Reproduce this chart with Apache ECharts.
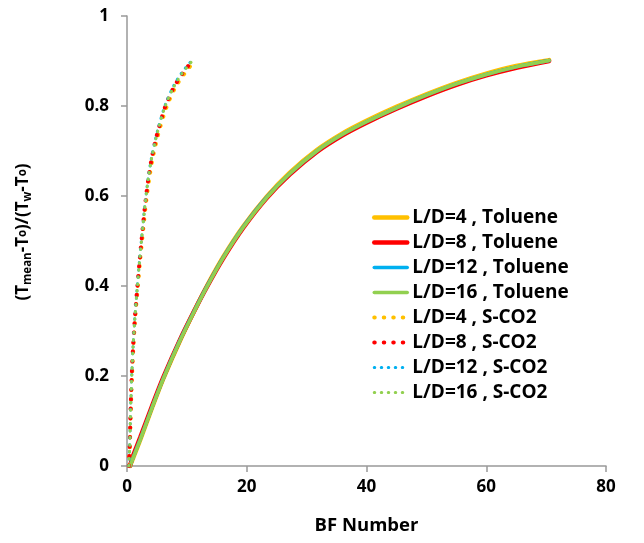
<!DOCTYPE html>
<html>
<head>
<meta charset="utf-8">
<script src="https://cdn.jsdelivr.net/npm/echarts@6/dist/echarts.min.js"></script>
<style>
html,body{margin:0;padding:0;background:#fff;}
#chart{width:644px;height:543px;}
</style>
</head>
<body>
<div id="chart"></div>
<script>
// ---- data ----
var seriesNames = ['L/D=4 , Toluene','L/D=8 , Toluene','L/D=12 , Toluene','L/D=16 , Toluene',
                   'L/D=4 , S-CO2','L/D=8 , S-CO2','L/D=12 , S-CO2','L/D=16 , S-CO2'];
var xTicks = [0, 20, 40, 60, 80];
var yTicks = [0, 0.2, 0.4, 0.6, 0.8, 1];

var tolX = [0.5, 1, 2.2, 4.2, 6.1, 8.9, 11.4, 13.3, 16.1, 19.4, 23.3, 27.2, 31.7, 36, 40, 45, 50, 55, 60, 65, 70.5];
var tolY4  = [0, 0.017, 0.058, 0.130, 0.195, 0.280, 0.349, 0.399, 0.465, 0.532, 0.598, 0.652, 0.702, 0.739, 0.767, 0.798, 0.826, 0.851, 0.872, 0.889, 0.902];
var tolY8  = [0, 0.022, 0.063, 0.134, 0.198, 0.282, 0.349, 0.397, 0.462, 0.529, 0.595, 0.648, 0.698, 0.735, 0.763, 0.794, 0.822, 0.847, 0.868, 0.885, 0.900];
var tolY12 = [0, 0.018, 0.059, 0.131, 0.196, 0.281, 0.349, 0.398, 0.464, 0.531, 0.597, 0.650, 0.700, 0.737, 0.765, 0.796, 0.824, 0.849, 0.870, 0.887, 0.901];
var tolY16 = [0, 0.017, 0.058, 0.130, 0.195, 0.280, 0.348, 0.397, 0.463, 0.530, 0.596, 0.650, 0.700, 0.737, 0.765, 0.796, 0.824, 0.849, 0.870, 0.887, 0.901];

var co2X4 = [0.3, 0.47, 0.63, 0.84, 1.05, 1.3, 1.56, 1.82, 2.18, 2.7, 3.22, 3.75, 4.27, 4.9, 5.52, 6.67, 8.1, 9.6, 11.25];
var co2X  = [0.3, 0.45, 0.6, 0.8, 1.0, 1.25, 1.5, 1.75, 2.1, 2.6, 3.1, 3.6, 4.1, 4.7, 5.3, 6.4, 7.8, 9.2, 10.75];
var co2Y4  = [0, 0.040, 0.120, 0.200, 0.260, 0.315, 0.360, 0.400, 0.455, 0.525, 0.590, 0.642, 0.683, 0.720, 0.752, 0.800, 0.842, 0.872, 0.900];
var co2Y8  = [0, 0.045, 0.125, 0.205, 0.262, 0.317, 0.362, 0.402, 0.456, 0.526, 0.590, 0.641, 0.682, 0.720, 0.751, 0.799, 0.841, 0.871, 0.898];
var co2Y12 = [0, 0.042, 0.122, 0.202, 0.262, 0.318, 0.363, 0.403, 0.458, 0.528, 0.593, 0.645, 0.686, 0.723, 0.755, 0.803, 0.845, 0.875, 0.900];
var co2Y16 = [0, 0.040, 0.120, 0.200, 0.260, 0.315, 0.360, 0.400, 0.455, 0.525, 0.590, 0.642, 0.683, 0.720, 0.752, 0.800, 0.842, 0.872, 0.898];

var colors = ['#FFC000', '#FF0000', '#00B0F0', '#92D050'];

function pairs(xs, ys) { return xs.map(function (x, i) { return [x, ys[i]]; }); }

var FONT = '"Open Sans", "Liberation Sans", sans-serif';

var dataSets = [
  pairs(tolX, tolY4), pairs(tolX, tolY8), pairs(tolX, tolY12), pairs(tolX, tolY16),
  pairs(co2X4, co2Y4), pairs(co2X, co2Y8), pairs(co2X, co2Y12), pairs(co2X, co2Y16)
];
var widths = [4.5, 4.5, 3.5, 3.5, 4, 4, 3, 3];
var dashes = [null, null, null, null, [0.5, 9], [0.5, 9], [0.5, 6.5], [0.5, 6.5]];

var series = dataSets.map(function (d, i) {
  return {
    name: seriesNames[i],
    type: 'line',
    data: d,
    smooth: 0.3,
    symbol: 'none',
    showSymbol: false,
    animation: false,
    z: 2 + i,
    lineStyle: {
      color: colors[i % 4],
      width: widths[i],
      type: dashes[i] ? dashes[i] : 'solid',
      cap: 'round'
    },
    itemStyle: { color: colors[i % 4] }
  };
});

var chart = echarts.init(document.getElementById('chart'), null, { renderer: 'canvas' });
chart.setOption({
  animation: false,
  backgroundColor: '#fff',
  grid: { left: 127, right: 38, top: 16, bottom: 77, containLabel: false },
  xAxis: {
    type: 'value',
    min: xTicks[0], max: xTicks[xTicks.length - 1], interval: xTicks[1] - xTicks[0],
    name: 'BF Number',
    nameLocation: 'middle',
    nameGap: 50,
    nameTextStyle: { fontFamily: FONT, fontWeight: 'bold', fontSize: 18.5, color: '#000' },
    axisLine: { lineStyle: { color: '#999', width: 1.5 } },
    axisTick: { show: true, length: 6, lineStyle: { color: '#999', width: 1.5 } },
    axisLabel: { fontFamily: FONT, fontWeight: 'bold', fontSize: 17, color: '#000', margin: 13 },
    splitLine: { show: false }
  },
  yAxis: {
    type: 'value',
    min: yTicks[0], max: yTicks[yTicks.length - 1], interval: 0.2,
    axisLine: { show: true, lineStyle: { color: '#999', width: 1.5 } },
    axisTick: { show: true, length: 6, lineStyle: { color: '#999', width: 1.5 } },
    axisLabel: { fontFamily: FONT, fontWeight: 'bold', fontSize: 17, color: '#000', margin: 18 },
    splitLine: { show: false }
  },
  legend: {
    orient: 'vertical',
    left: 367,
    top: 203,
    itemWidth: 33,
    itemHeight: 14,
    itemGap: 6,
    data: seriesNames,
    textStyle: { fontFamily: FONT, fontWeight: 'bold', fontSize: 19, lineHeight: 17, color: '#000' },
    lineStyle: { width: 'inherit' },
    itemStyle: { opacity: 0 }
  },
  graphic: [{
    type: 'text',
    x: 23, y: 232,
    rotation: Math.PI / 2,
    style: {
      text: '{m|(T}{s|mean}{m|-T}{o|o}{m|)/(T}{s|w}{m|-T}{o|o}{m|)}',
      align: 'center',
      verticalAlign: 'middle',
      rich: {
        m: { fontFamily: FONT, fontWeight: 'bold', fontSize: 17, lineHeight: 22, color: '#000' },
        s: { fontFamily: FONT, fontWeight: 'bold', fontSize: 11.5, lineHeight: 12, verticalAlign: 'bottom', color: '#000' },
        o: { fontFamily: FONT, fontWeight: 'bold', fontSize: 11.5, lineHeight: 12, verticalAlign: 'middle', color: '#000' }
      }
    }
  }],
  series: series
});
</script>
</body>
</html>
